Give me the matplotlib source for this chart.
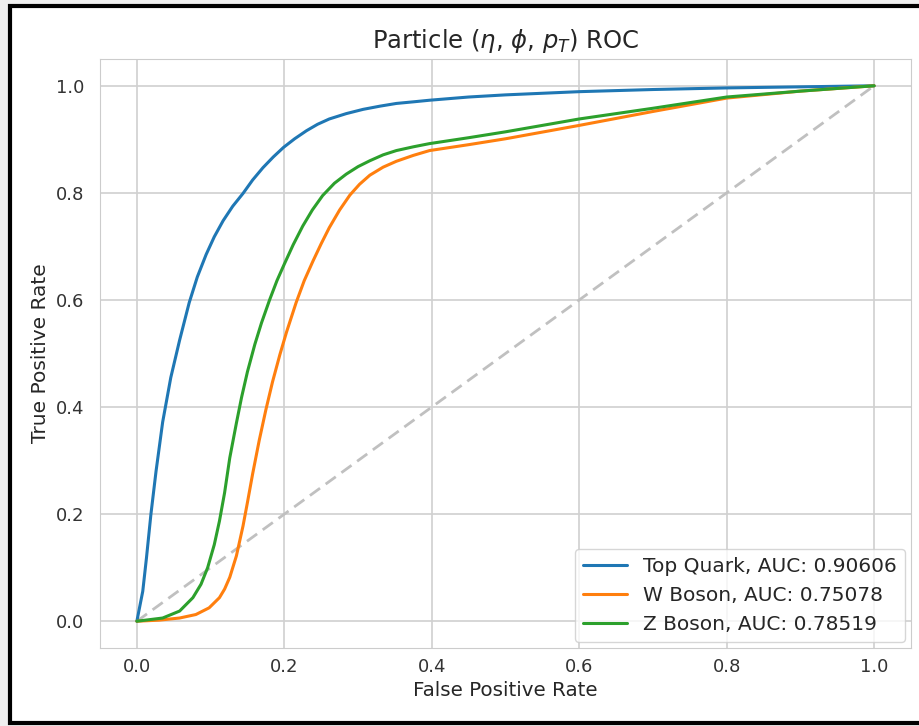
import matplotlib
matplotlib.use("Agg")
import matplotlib.pyplot as plt
import seaborn as sns
from matplotlib.patches import Rectangle

sns.set_style("whitegrid")
plt.rcParams['font.family'] = ['DejaVu Sans']

title = "Particle ($\\eta$, $\\phi$, $p_T$) ROC"
xlabel = "False Positive Rate"
ylabel = "True Positive Rate"
labels = ["Top Quark, AUC: 0.90606", "W Boson, AUC: 0.75078", "Z Boson, AUC: 0.78519"]
colors = ["#1f77b4", "#ff7f0e", "#2ca02c"]

top_fpr = [0, 0.008, 0.013, 0.019, 0.026, 0.035, 0.046, 0.058, 0.071, 0.082, 0.094,
           0.105, 0.117, 0.130, 0.144, 0.157, 0.171, 0.185, 0.199, 0.214, 0.230, 0.245, 0.261,
           0.284, 0.307, 0.330, 0.352, 0.375, 0.397, 0.45, 0.5, 0.6, 0.7, 0.8, 0.9, 1.0]
top_tpr = [0, 0.056, 0.118, 0.199, 0.280, 0.372, 0.455, 0.525, 0.595, 0.643, 0.685,
           0.718, 0.748, 0.775, 0.799, 0.824, 0.847, 0.867, 0.885, 0.901, 0.916, 0.928, 0.938,
           0.948, 0.956, 0.962, 0.967, 0.970, 0.973, 0.979, 0.983, 0.989, 0.993, 0.996, 0.998, 1.0]

w_fpr = [0, 0.030, 0.058, 0.080, 0.098, 0.112, 0.119, 0.126, 0.135, 0.144, 0.150, 0.157, 0.166,
         0.175, 0.184, 0.194, 0.203, 0.216, 0.227, 0.239, 0.250, 0.261, 0.275, 0.289, 0.302,
         0.316, 0.334, 0.352, 0.375, 0.397, 0.45, 0.5, 0.6, 0.7, 0.8, 0.9, 1.0]
w_tpr = [0, 0.002, 0.006, 0.0125, 0.025, 0.044, 0.060, 0.082, 0.122, 0.178, 0.222, 0.275, 0.338,
         0.395, 0.447, 0.498, 0.540, 0.595, 0.636, 0.673, 0.705, 0.735, 0.768, 0.796, 0.816,
         0.833, 0.848, 0.859, 0.870, 0.879, 0.890, 0.901, 0.926, 0.952, 0.977, 0.990, 1.0]

z_fpr = [0, 0.035, 0.058, 0.076, 0.087, 0.096, 0.105, 0.112, 0.119, 0.126, 0.135, 0.142, 0.150,
         0.160, 0.169, 0.180, 0.190, 0.200, 0.212, 0.225, 0.238, 0.252, 0.268, 0.284, 0.300,
         0.316, 0.334, 0.352, 0.375, 0.397, 0.45, 0.5, 0.6, 0.7, 0.8, 0.9, 1.0]
z_tpr = [0, 0.006, 0.019, 0.044, 0.069, 0.100, 0.143, 0.187, 0.240, 0.305, 0.370, 0.418, 0.466,
         0.517, 0.557, 0.600, 0.636, 0.667, 0.703, 0.738, 0.768, 0.795, 0.818, 0.835, 0.849,
         0.860, 0.871, 0.879, 0.886, 0.892, 0.903, 0.914, 0.938, 0.958, 0.979, 0.990, 1.0]

ticks = [0.0, 0.2, 0.4, 0.6, 0.8, 1.0]

fig = plt.figure(figsize=(9.2, 7.26), dpi=100)
fig.patch.set_facecolor("#efefef")
frame = Rectangle((10 / 920, 3 / 726), 1.2, 717 / 726, transform=fig.transFigure,
                  facecolor="white", edgecolor="black", linewidth=3.0, zorder=-10)
fig.add_artist(frame)

ax = fig.add_axes([100 / 920, 1 - 648 / 726, 811 / 920, 589 / 726])
ax.plot([0, 1], [0, 1], linestyle="--", dashes=(4.5, 2.5), color="#c0c0c0", linewidth=2.0)
for fx, ty, lab, c in zip([top_fpr, w_fpr, z_fpr], [top_tpr, w_tpr, z_tpr], labels, colors):
    ax.plot(fx, ty, color=c, linewidth=2.2, label=lab)

ax.set_xlim(-0.05, 1.05)
ax.set_ylim(-0.05, 1.05)
ax.set_xticks(ticks)
ax.set_yticks(ticks)
ax.tick_params(labelsize=13, colors="#333333")
ax.tick_params(axis="y", pad=8)
for s in ax.spines.values():
    s.set_color("#cccccc")
ax.grid(color="#d0d0d0", linewidth=1.2)
ax.set_title(title, fontsize=17.5, color="#262626", pad=8)
ax.set_xlabel(xlabel, fontsize=14.3, color="#262626")
ax.set_ylabel(ylabel, fontsize=14.5, color="#262626")
ax.legend(loc="lower right", fontsize=14.5, frameon=True, handlelength=2.2, borderaxespad=0.3)

fig.savefig("out.png", dpi=100, facecolor=fig.get_facecolor())
